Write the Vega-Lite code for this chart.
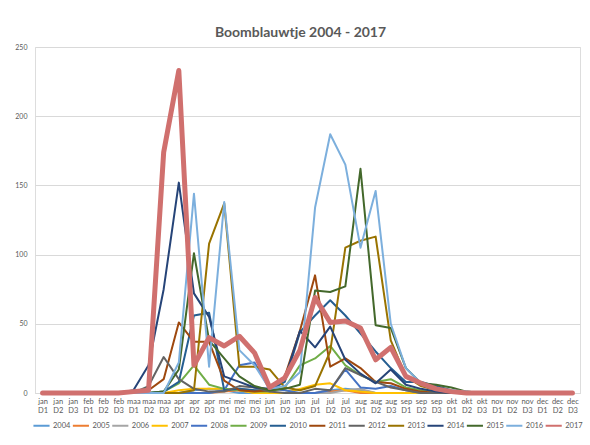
{
  "$schema": "https://vega.github.io/schema/vega-lite/v6.json",
  "width": 545,
  "height": 346,
  "autosize": {"type": "none"},
  "padding": {"left": 35, "top": 47, "right": 10, "bottom": 52},
  "background": "white",
  "title": {"text": "Boomblauwtje 2004 - 2017", "font": "Lato", "fontSize": 14, "fontWeight": "bold", "color": "#595959", "anchor": "middle", "dx": -7, "offset": 3},
  "data": {"values": [
    {"p":"jan D1","2004":0,"2005":0,"2006":0,"2007":0,"2008":0,"2009":0,"2010":0,"2011":0,"2012":0,"2013":0,"2014":0,"2015":0,"2016":0,"2017":0},
    {"p":"jan D2","2004":0,"2005":0,"2006":0,"2007":0,"2008":0,"2009":0,"2010":0,"2011":0,"2012":0,"2013":0,"2014":0,"2015":0,"2016":0,"2017":0},
    {"p":"jan D3","2004":0,"2005":0,"2006":0,"2007":0,"2008":0,"2009":0,"2010":0,"2011":0,"2012":0,"2013":0,"2014":0,"2015":0,"2016":0,"2017":0},
    {"p":"feb D1","2004":0,"2005":0,"2006":0,"2007":0,"2008":0,"2009":0,"2010":0,"2011":0,"2012":0,"2013":0,"2014":0,"2015":0,"2016":0,"2017":0},
    {"p":"feb D2","2004":0,"2005":0,"2006":0,"2007":0,"2008":0,"2009":0,"2010":0,"2011":0,"2012":0,"2013":0,"2014":0,"2015":0,"2016":0,"2017":0},
    {"p":"feb D3","2004":0,"2005":0,"2006":0,"2007":0,"2008":0,"2009":0,"2010":0,"2011":0,"2012":0,"2013":0,"2014":0,"2015":0,"2016":0,"2017":0},
    {"p":"maa D1","2004":0,"2005":0,"2006":0,"2007":0,"2008":0,"2009":0,"2010":0,"2011":0,"2012":0,"2013":0,"2014":2,"2015":0,"2016":0,"2017":1},
    {"p":"maa D2","2004":0,"2005":0,"2006":0,"2007":0,"2008":0,"2009":0,"2010":0,"2011":2,"2012":5,"2013":0,"2014":20,"2015":0,"2016":0,"2017":2},
    {"p":"maa D3","2004":0,"2005":0,"2006":0,"2007":0,"2008":0,"2009":1,"2010":1,"2011":10,"2012":26,"2013":0,"2014":75,"2015":1,"2016":0,"2017":174},
    {"p":"apr D1","2004":0,"2005":0,"2006":0,"2007":2,"2008":0,"2009":7,"2010":8,"2011":51,"2012":10,"2013":0,"2014":152,"2015":17,"2016":22,"2017":233},
    {"p":"apr D2","2004":2,"2005":0,"2006":0,"2007":3,"2008":0,"2009":20,"2010":56,"2011":37,"2012":3,"2013":2,"2014":72,"2015":101,"2016":144,"2017":20},
    {"p":"apr D3","2004":3,"2005":0,"2006":0,"2007":3,"2008":0,"2009":6,"2010":58,"2011":37,"2012":1,"2013":108,"2014":55,"2015":38,"2016":19,"2017":40},
    {"p":"mei D1","2004":2,"2005":1,"2006":2,"2007":3,"2008":2,"2009":3,"2010":2,"2011":9,"2012":1,"2013":137,"2014":12,"2015":25,"2016":138,"2017":34},
    {"p":"mei D2","2004":0,"2005":2,"2006":3,"2007":2,"2008":20,"2009":2,"2010":3,"2011":2,"2012":5,"2013":19,"2014":8,"2015":12,"2016":31,"2017":41},
    {"p":"mei D3","2004":0,"2005":0,"2006":2,"2007":0,"2008":22,"2009":1,"2010":2,"2011":1,"2012":4,"2013":19,"2014":4,"2015":5,"2016":20,"2017":29},
    {"p":"jun D1","2004":0,"2005":0,"2006":0,"2007":0,"2008":3,"2009":1,"2010":2,"2011":2,"2012":1,"2013":17,"2014":3,"2015":2,"2016":3,"2017":4},
    {"p":"jun D2","2004":0,"2005":0,"2006":0,"2007":0,"2008":2,"2009":4,"2010":8,"2011":12,"2012":0,"2013":4,"2014":10,"2015":3,"2016":5,"2017":11},
    {"p":"jun D3","2004":0,"2005":0,"2006":0,"2007":3,"2008":0,"2009":20,"2010":44,"2011":45,"2012":0,"2013":2,"2014":45,"2015":6,"2016":15,"2017":31},
    {"p":"jul D1","2004":0,"2005":0,"2006":0,"2007":6,"2008":0,"2009":25,"2010":56,"2011":85,"2012":3,"2013":5,"2014":33,"2015":74,"2016":134,"2017":69},
    {"p":"jul D2","2004":2,"2005":1,"2006":0,"2007":7,"2008":2,"2009":34,"2010":67,"2011":19,"2012":2,"2013":30,"2014":48,"2015":73,"2016":187,"2017":51},
    {"p":"jul D3","2004":3,"2005":2,"2006":2,"2007":2,"2008":17,"2009":20,"2010":56,"2011":25,"2012":18,"2013":105,"2014":24,"2015":77,"2016":165,"2017":52},
    {"p":"aug D1","2004":2,"2005":0,"2006":3,"2007":1,"2008":4,"2009":13,"2010":43,"2011":18,"2012":13,"2013":110,"2014":14,"2015":162,"2016":105,"2017":47},
    {"p":"aug D2","2004":0,"2005":0,"2006":0,"2007":0,"2008":3,"2009":8,"2010":30,"2011":8,"2012":8,"2013":113,"2014":7,"2015":49,"2016":146,"2017":24},
    {"p":"aug D3","2004":0,"2005":0,"2006":0,"2007":0,"2008":5,"2009":10,"2010":18,"2011":7,"2012":4,"2013":38,"2014":17,"2015":47,"2016":50,"2017":33},
    {"p":"sep D1","2004":0,"2005":0,"2006":0,"2007":0,"2008":2,"2009":4,"2010":8,"2011":3,"2012":2,"2013":12,"2014":6,"2015":18,"2016":18,"2017":12},
    {"p":"sep D2","2004":0,"2005":0,"2006":0,"2007":0,"2008":0,"2009":2,"2010":8,"2011":1,"2012":0,"2013":5,"2014":3,"2015":7,"2016":7,"2017":7},
    {"p":"sep D3","2004":0,"2005":0,"2006":0,"2007":0,"2008":0,"2009":1,"2010":5,"2011":0,"2012":0,"2013":2,"2014":1,"2015":6,"2016":3,"2017":3},
    {"p":"okt D1","2004":0,"2005":0,"2006":0,"2007":0,"2008":0,"2009":0,"2010":2,"2011":0,"2012":0,"2013":0,"2014":0,"2015":4,"2016":2,"2017":1},
    {"p":"okt D2","2004":0,"2005":0,"2006":0,"2007":0,"2008":0,"2009":0,"2010":0,"2011":0,"2012":0,"2013":0,"2014":0,"2015":1,"2016":1,"2017":0},
    {"p":"okt D3","2004":0,"2005":0,"2006":0,"2007":0,"2008":0,"2009":0,"2010":0,"2011":0,"2012":0,"2013":0,"2014":0,"2015":0,"2016":0,"2017":0},
    {"p":"nov D1","2004":0,"2005":0,"2006":0,"2007":0,"2008":0,"2009":0,"2010":0,"2011":0,"2012":0,"2013":0,"2014":0,"2015":0,"2016":0,"2017":0},
    {"p":"nov D2","2004":0,"2005":0,"2006":0,"2007":0,"2008":0,"2009":0,"2010":0,"2011":0,"2012":0,"2013":0,"2014":0,"2015":0,"2016":0,"2017":0},
    {"p":"nov D3","2004":0,"2005":0,"2006":0,"2007":0,"2008":0,"2009":0,"2010":0,"2011":0,"2012":0,"2013":0,"2014":0,"2015":0,"2016":0,"2017":0},
    {"p":"dec D1","2004":0,"2005":0,"2006":0,"2007":0,"2008":0,"2009":0,"2010":0,"2011":0,"2012":0,"2013":0,"2014":0,"2015":0,"2016":0,"2017":0},
    {"p":"dec D2","2004":0,"2005":0,"2006":0,"2007":0,"2008":0,"2009":0,"2010":0,"2011":0,"2012":0,"2013":0,"2014":0,"2015":0,"2016":0,"2017":0},
    {"p":"dec D3","2004":0,"2005":0,"2006":0,"2007":0,"2008":0,"2009":0,"2010":0,"2011":0,"2012":0,"2013":0,"2014":0,"2015":0,"2016":0,"2017":0}
  ]},
  "transform": [
    {"fold": ["2004","2005","2006","2007","2008","2009","2010","2011","2012","2013","2014","2015","2016","2017"], "as": ["jaar", "aantal"]}
  ],
  "mark": {"type": "line", "strokeCap": "round", "strokeJoin": "round"},
  "encoding": {
    "x": {
      "field": "p", "type": "ordinal", "sort": null,
      "scale": {"type": "point", "padding": 0.5},
      "axis": {"title": null, "labelAngle": 0, "labelExpr": "split(datum.label, ' ')", "labelFont": "Lato", "labelFontSize": 7.5, "labelColor": "#595959", "labelLineHeight": 9.5, "ticks": false, "domainColor": "#d9d9d9", "labelPadding": 4, "grid": false, "labelOverlap": false, "labelBound": false, "labelBaseline": "top"}
    },
    "y": {
      "field": "aantal", "type": "quantitative",
      "scale": {"domain": [0, 250], "nice": false},
      "axis": {"title": null, "values": [0, 50, 100, 150, 200, 250], "labelFont": "Lato", "labelFontSize": 7, "labelColor": "#595959", "domain": false, "ticks": false, "gridColor": "#d9d9d9", "labelPadding": 8}
    },
    "color": {
      "field": "jaar", "type": "nominal",
      "scale": {
        "domain": ["2004","2005","2006","2007","2008","2009","2010","2011","2012","2013","2014","2015","2016","2017"],
        "range": ["#5B9BD5","#ED7D31","#A5A5A5","#FFC000","#4472C4","#70AD47","#255E91","#9E480E","#636363","#997300","#264478","#43682B","#7CAFDD","#D0706E"]
      },
      "legend": {"title": null, "orient": "none", "legendX": -3, "legendY": 369, "direction": "horizontal", "columns": 14, "symbolType": "stroke", "symbolSize": 260, "symbolStrokeWidth": 2, "labelFont": "Lato", "labelFontSize": 7.5, "labelColor": "#595959", "columnPadding": -2.6, "labelOffset": 2}
    },
    "strokeWidth": {
      "condition": {"test": "datum.jaar == '2017'", "value": 5},
      "value": 2
    }
  }
}
